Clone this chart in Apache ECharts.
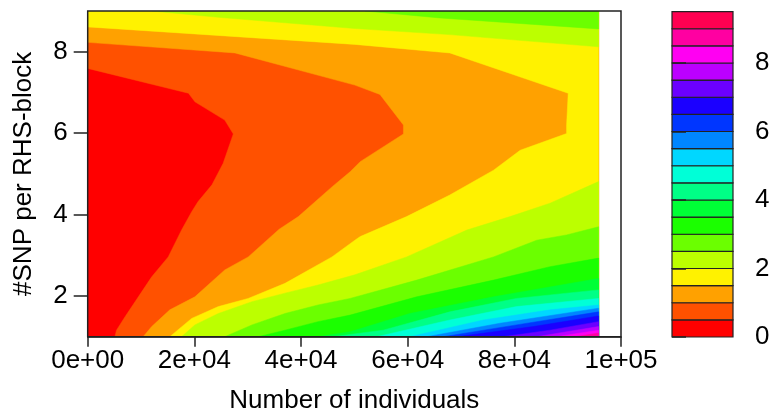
<!DOCTYPE html>
<html>
<head>
<meta charset="utf-8">
<script src="https://cdn.jsdelivr.net/npm/echarts@6/dist/echarts.min.js"></script>
<style>html,body{margin:0;padding:0;background:#fff}#c{width:771px;height:417px}</style>
</head>
<body>
<div id="c"></div>
<script>
// ---- data ----
const xTicks = [0, 20000, 40000, 60000, 80000, 100000];
const yTicks = [2, 4, 6, 8];
const barTicks = [0, 2, 4, 6, 8];
const levels = [0,0.5,1,1.5,2,2.5,3,3.5,4,4.5,5,5.5,6,6.5,7,7.5,8,8.5,9,9.5];
const palette = ['#FF0000','#FF5100','#FFA100','#FFF200','#BCFF00','#6BFF00','#1BFF00','#00FF36','#00FF86','#00FFD7','#00D7FF','#0086FF','#0036FF','#1B00FF','#6B00FF','#BC00FF','#FF00F2','#FF00A1','#FF0051'];
const xMin = 0, xMax = 95800, yMin = 1, yMax = 9;

// contour lines [x, y] per level
const c05 = [[0,7.59],[18900,6.98],[20100,6.77],[25700,6.32],[27300,5.98],[25400,5.26],[23300,4.73],[20700,4.32],[19500,4.07],[17600,3.62],[15100,2.96],[12000,2.47],[9500,1.98],[7000,1.49],[5400,1.16],[5100,1]];
const c10 = [[0,8.23],[27600,7.97],[50100,7.18],[54800,6.95],[59200,6.2],[59200,5.98],[51100,5.3],[49200,5.05],[45800,4.68],[39500,3.95],[35900,3.64],[33600,3.37],[30100,2.96],[25700,2.64],[20100,1.98],[15400,1.66],[12000,1.25],[10400,1]];
const c15 = [[0,8.61],[50100,8.18],[67900,7.97],[90100,6.98],[89800,6.2],[89800,5.99],[81100,5.58],[76100,5.09],[67900,4.48],[59800,3.95],[51100,3.46],[50100,3.37],[45800,2.96],[37000,2.31],[30100,1.94],[24500,1.74],[19500,1.45],[15400,1]];
const c20top = [[12000,9],[25000,8.84],[50100,8.57],[67900,8.42],[95800,8.12]];
const c25top = [[52000,9],[66000,8.83],[95800,8.56]];
const c20bot = [[17600,1],[20100,1.29],[24500,1.57],[30800,1.86],[37000,2.07],[43200,2.27],[50100,2.52],[59800,2.96],[71100,3.62],[79200,3.95],[86700,4.28],[95800,4.81]];
const c25bot = [[25700,1],[30800,1.29],[37000,1.57],[43200,1.78],[49200,1.94],[61700,2.39],[76100,2.96],[84200,3.37],[89800,3.5],[95800,3.7]];
const c30 = [[32000,1],[37000,1.16],[43200,1.37],[49200,1.53],[61700,1.98],[76100,2.39],[86700,2.72],[95800,2.93]];
const c35 = [[43200,1],[49200,1.12],[60400,1.57],[76100,1.98],[95800,2.43]];
const c40 = [[46000,1],[55400,1.16],[67900,1.61],[80400,1.94],[95800,2.15]];
const c45 = [[54200,1],[67900,1.41],[80400,1.74],[95800,1.94]];
const c50 = [[60400,1],[74200,1.41],[86700,1.66],[95800,1.78]];
const c55 = [[63600,1],[77300,1.33],[95800,1.7]];
const c60 = [[66700,1],[80400,1.29],[95800,1.61]];
const c65 = [[69200,1],[83600,1.25],[95800,1.51]];
const c70 = [[77900,1],[86700,1.16],[95800,1.37]];
const c75 = [[84200,1],[95800,1.25]];
const c80 = [[87900,1],[95800,1.16]];
const c85 = [[91400,1],[95800,1.09]];

// ---- build filled regions (z >= level), painted in increasing order ----
const bands = [
  [0, 'all', []],
  [0.5, 'wrap', c05], [1.0, 'wrap', c10], [1.5, 'wrap', c15],
  [2.0, 'top', c20top], [2.0, 'bottom', c20bot],
  [2.5, 'top', c25top], [2.5, 'bottom', c25bot],
  [3.0, 'bottom', c30], [3.5, 'bottom', c35], [4.0, 'bottom', c40], [4.5, 'bottom', c45],
  [5.0, 'bottom', c50], [5.5, 'bottom', c55], [6.0, 'bottom', c60], [6.5, 'bottom', c65],
  [7.0, 'bottom', c70], [7.5, 'bottom', c75], [8.0, 'bottom', c80], [8.5, 'bottom', c85]
];
const regions = bands.map(function (b) {
  let pts;
  if (b[1] === 'all') pts = [[xMin,yMin],[xMax,yMin],[xMax,yMax],[xMin,yMax]];
  else if (b[1] === 'wrap') pts = b[2].concat([[xMax,yMin],[xMax,yMax],[xMin,yMax]]);
  else if (b[1] === 'top') pts = b[2].concat([[xMax,yMax]]);
  else pts = b[2].concat([[xMax,yMin]]);
  return { color: palette[Math.round(b[0] / 0.5)], pts: pts };
});

const FONT = "'Liberation Sans', Arial, sans-serif";
const FS = 26;
function sci(v) {
  if (v === 0) return '0e+00';
  const e = Math.floor(Math.log10(v) + 1e-9);
  const m = Math.round(v / Math.pow(10, e) * 100) / 100;
  return m + 'e+' + (e < 10 ? '0' : '') + e;
}

const chart = echarts.init(document.getElementById('c'), null, { renderer: 'canvas' });
chart.setOption({
  animation: false,
  backgroundColor: '#ffffff',
  textStyle: { fontFamily: FONT },
  grid: [
    { left: 87.7, top: 11, width: 533.3, height: 325.7, show: true, z: 10, containLabel: false, outerBoundsMode: 'none',
      backgroundColor: 'rgba(0,0,0,0)', borderColor: '#222', borderWidth: 1.5 },
    { left: 672, top: 11.6, width: 61, height: 325.4, containLabel: false, outerBoundsMode: 'none' }
  ],
  xAxis: [
    { type: 'value', gridIndex: 0, min: 0, max: 100000, interval: 20000, z: 10,
      axisLine: { show: true, onZero: false, lineStyle: { color: '#222', width: 1.5 } },
      axisTick: { show: true, length: 10, lineStyle: { color: '#222', width: 1.5 }, customValues: xTicks },
      axisLabel: { color: '#000', fontSize: FS, fontFamily: FONT, margin: 11, formatter: sci, customValues: xTicks, showMinLabel: true, showMaxLabel: true },
      splitLine: { show: false },
      name: 'Number of individuals', nameLocation: 'middle', nameGap: 51,
      nameTextStyle: { color: '#000', fontSize: FS, fontFamily: FONT } },
    { type: 'value', gridIndex: 1, min: 0, max: 1, show: false }
  ],
  yAxis: [
    { type: 'value', gridIndex: 0, min: yMin, max: yMax, z: 10,
      axisLine: { show: false },
      axisTick: { show: true, length: 14, lineStyle: { color: '#222', width: 1.5 }, customValues: yTicks },
      axisLabel: { color: '#000', fontSize: FS, fontFamily: FONT, margin: 20, customValues: yTicks },
      splitLine: { show: false },
      name: '#SNP per RHS-block', nameLocation: 'middle', nameGap: 51,
      nameTextStyle: { color: '#000', fontSize: FS, fontFamily: FONT } },
    { type: 'value', gridIndex: 1, min: 0, max: 9.5, position: 'right', z: 10,
      axisLine: { show: false },
      axisTick: { show: true, length: 14, lineStyle: { color: '#222', width: 1.5 }, customValues: barTicks },
      axisLabel: { color: '#000', fontSize: FS, fontFamily: FONT, margin: 22, customValues: barTicks },
      splitLine: { show: false } }
  ],
  series: [
    { type: 'custom', xAxisIndex: 0, yAxisIndex: 0, clip: true, z: 2,
      data: regions.map(function () { return [xMin, yMin]; }),
      renderItem: function (params, api) {
        const r = regions[params.dataIndex];
        return { type: 'polygon', shape: { points: r.pts.map(function (p) { return api.coord(p); }) },
                 style: { fill: r.color, stroke: r.color, lineWidth: 0.5 } };
      } },
    { type: 'custom', xAxisIndex: 1, yAxisIndex: 1, z: 2,
      data: palette.map(function (c, i) { return [0, levels[i]]; }),
      renderItem: function (params, api) {
        const i = params.dataIndex;
        const p1 = api.coord([0, levels[i + 1]]);
        const p2 = api.coord([1, levels[i]]);
        return { type: 'rect', shape: { x: p1[0], y: p1[1], width: p2[0] - p1[0], height: p2[1] - p1[1] },
                 style: { fill: palette[i], stroke: '#222', lineWidth: 1.2 } };
      } }
  ]
});
</script>
</body>
</html>
